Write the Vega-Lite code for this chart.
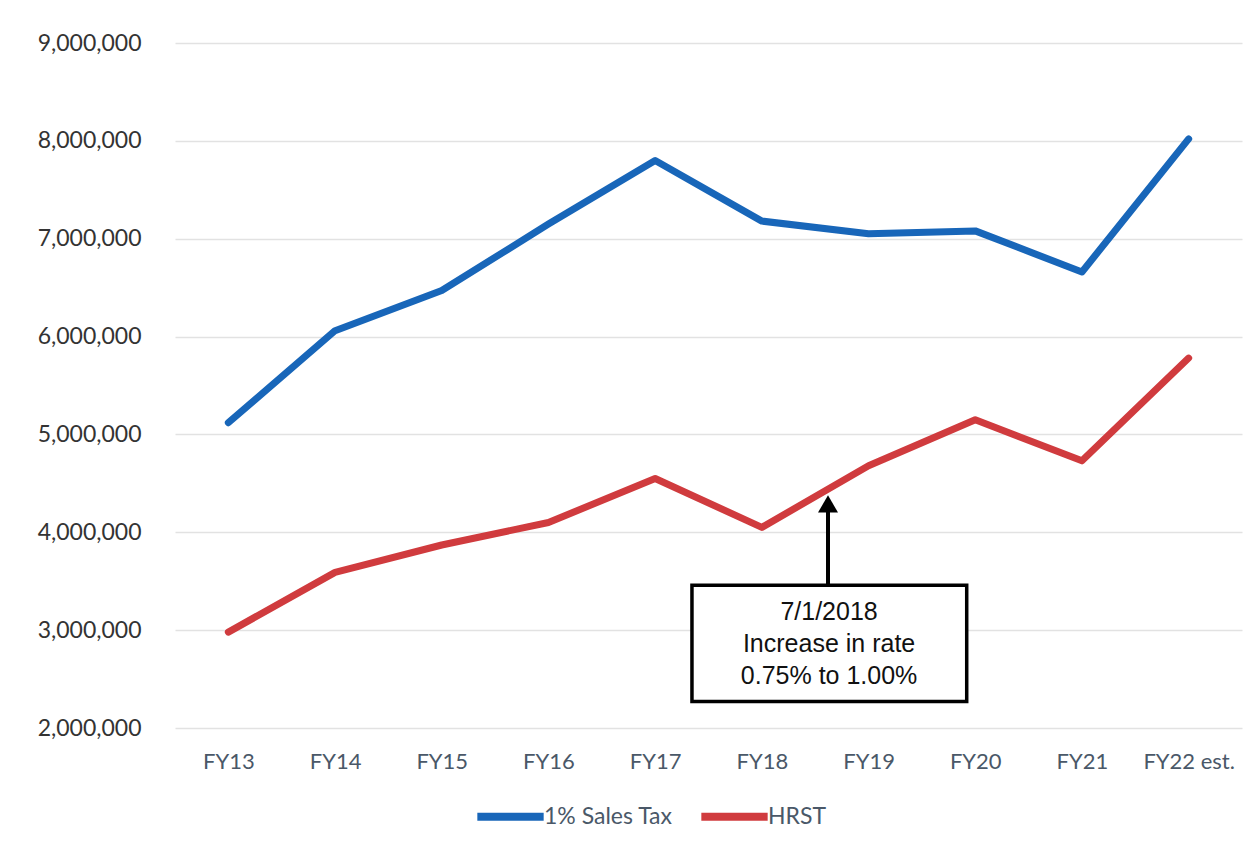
{
  "$schema": "https://vega.github.io/schema/vega-lite/v6.json",
  "autosize": "none",
  "width": 1067,
  "height": 685,
  "padding": {"left": 175, "top": 43, "right": 18, "bottom": 128},
  "background": "white",
  "config": {
    "view": {"stroke": null},
    "font": "Lato",
    "axis": {"domain": false, "ticks": false, "labelFont": "Lato", "labelFontSize": 22},
    "legend": {"labelFont": "Lato"}
  },
  "resolve": {"scale": {"x": "independent"}},
  "layer": [
    {
      "data": {
        "values": [
          {"year": "FY13", "series": "1% Sales Tax", "value": 5120000},
          {"year": "FY14", "series": "1% Sales Tax", "value": 6060000},
          {"year": "FY15", "series": "1% Sales Tax", "value": 6470000},
          {"year": "FY16", "series": "1% Sales Tax", "value": 7150000},
          {"year": "FY17", "series": "1% Sales Tax", "value": 7800000},
          {"year": "FY18", "series": "1% Sales Tax", "value": 7180000},
          {"year": "FY19", "series": "1% Sales Tax", "value": 7050000},
          {"year": "FY20", "series": "1% Sales Tax", "value": 7080000},
          {"year": "FY21", "series": "1% Sales Tax", "value": 6660000},
          {"year": "FY22 est.", "series": "1% Sales Tax", "value": 8020000},
          {"year": "FY13", "series": "HRST", "value": 2980000},
          {"year": "FY14", "series": "HRST", "value": 3590000},
          {"year": "FY15", "series": "HRST", "value": 3870000},
          {"year": "FY16", "series": "HRST", "value": 4100000},
          {"year": "FY17", "series": "HRST", "value": 4550000},
          {"year": "FY18", "series": "HRST", "value": 4050000},
          {"year": "FY19", "series": "HRST", "value": 4680000},
          {"year": "FY20", "series": "HRST", "value": 5150000},
          {"year": "FY21", "series": "HRST", "value": 4730000},
          {"year": "FY22 est.", "series": "HRST", "value": 5780000}
        ]
      },
      "mark": {"type": "line", "strokeWidth": 7, "strokeCap": "round", "strokeJoin": "round"},
      "encoding": {
        "x": {
          "field": "year", "type": "ordinal", "sort": null,
          "scale": {"type": "point", "padding": 0.5},
          "axis": {"title": null, "labelAngle": 0, "labelColor": "#4a5868", "labelPadding": 23, "grid": false}
        },
        "y": {
          "field": "value", "type": "quantitative",
          "scale": {"domain": [2000000, 9000000], "nice": false, "zero": false},
          "axis": {
            "title": null, "labelExpr": "format(datum.value, ',')", "values": [2000000, 3000000, 4000000, 5000000, 6000000, 7000000, 8000000, 9000000],
            "labelColor": "#333333", "labelFontSize": 23, "labelPadding": 34, "gridColor": "#e2e2e2", "gridWidth": 1.5
          }
        },
        "color": {
          "field": "series", "type": "nominal",
          "scale": {"domain": ["1% Sales Tax", "HRST"], "range": ["#1866B9", "#D03B3E"]},
          "legend": {
            "title": null, "orient": "none", "direction": "horizontal",
            "legendX": 298, "legendY": 736,
            "symbolType": "stroke", "symbolSize": 4400, "symbolStrokeWidth": 8,
            "labelFontSize": 23, "labelColor": "#4a5868", "labelOffset": -4, "columnPadding": 12
          }
        }
      }
    },
    {
      "data": {"values": [{"kind": "arrow"}]},
      "mark": {"type": "rule", "color": "black", "strokeWidth": 4},
      "encoding": {
        "x": {"datum": 5.62, "type": "quantitative", "scale": {"domain": [-0.5, 9.5], "nice": false, "zero": false}, "axis": null},
        "y": {"datum": 3460000, "type": "quantitative"},
        "y2": {"datum": 4220000}
      }
    },
    {
      "data": {"values": [{"kind": "arrowhead"}]},
      "mark": {"type": "point", "shape": "triangle-up", "filled": true, "color": "black", "size": 400, "opacity": 1},
      "encoding": {
        "x": {"datum": 5.62, "type": "quantitative", "scale": {"domain": [-0.5, 9.5], "nice": false, "zero": false}, "axis": null},
        "y": {"datum": 4290000, "type": "quantitative"}
      }
    },
    {
      "data": {"values": [{"kind": "box"}]},
      "mark": {"type": "rect", "fill": "white", "stroke": "black", "strokeWidth": 3.5},
      "encoding": {
        "x": {"datum": 4.345, "type": "quantitative", "scale": {"domain": [-0.5, 9.5], "nice": false, "zero": false}, "axis": null},
        "x2": {"datum": 6.92},
        "y": {"datum": 2270000, "type": "quantitative"},
        "y2": {"datum": 3460000}
      }
    },
    {
      "data": {
        "values": [
          {"note": "7/1/2018", "at": 3190000},
          {"note": "Increase in rate", "at": 2860000},
          {"note": "0.75% to 1.00%", "at": 2530000}
        ]
      },
      "mark": {"type": "text", "font": "Liberation Sans", "fontSize": 25, "color": "#111111", "align": "center", "baseline": "middle"},
      "encoding": {
        "x": {"datum": 5.63, "type": "quantitative", "scale": {"domain": [-0.5, 9.5], "nice": false, "zero": false}, "axis": null},
        "y": {"field": "at", "type": "quantitative"},
        "text": {"field": "note"}
      }
    }
  ]
}
